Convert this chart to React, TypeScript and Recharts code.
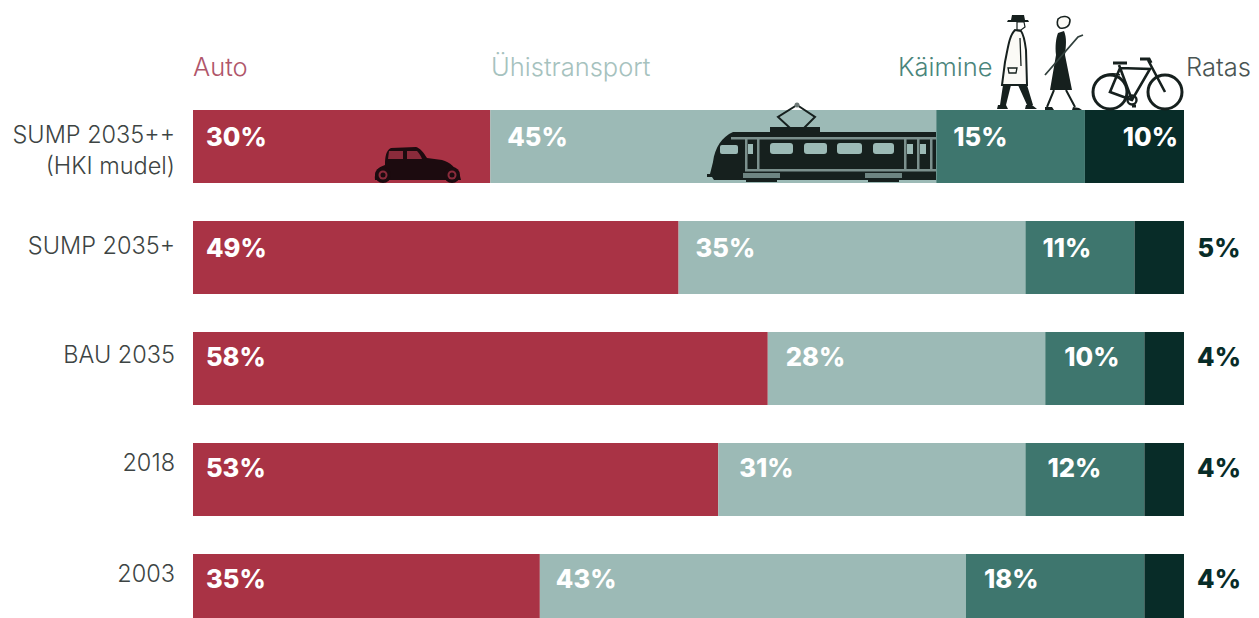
import React from "react";
import { BarChart, Bar, XAxis, YAxis, LabelList } from "recharts";

// Modal split of trips per scenario, in percent
const scenarios = ["SUMP 2035++|(HKI mudel)", "SUMP 2035+", "BAU 2035", "2018", "2003"];
const auto = [30, 49, 58, 53, 35];
const transit = [45, 35, 28, 31, 43];
const walking = [15, 11, 10, 12, 18];
const cycling = [10, 5, 4, 4, 4];

const rows = scenarios.map((name, i) => ({
  name,
  auto: auto[i],
  transit: transit[i],
  walking: walking[i],
  cycling: cycling[i],
}));

const RED = "#a93345";
const PALE = "#9cbab6";
const TEAL = "#3e766e";
const DARK = "#082c28";
const INK = "#16201e";
const CAR_INK = "#1c0b0f";
const TRAIN_LINE = "#7b908d";

const LIGHT_FONT = "Inter, sans-serif";
const BOLD_FONT = "Inter, sans-serif";
const PERCENT_SIZE = 25.5;

// Horizontal inset of the percentage inside each segment, per row
const autoInset = [13, 13, 13, 13, 13];
const transitInset = [17, 17, 18, 21, 16];
const walkingInset = [17, 17, 19, 22, 18];
// Vertical nudges per row for the scenario names and the percentages
const tickNudge = [0, 0, -2, -5, -5];
const percentNudge = [0, 0, -2, -2, -2];

const percentLabel = (insets: number[]) => (p: any) => (
  <text
    x={p.x + insets[p.index]}
    y={p.y + 36 + percentNudge[p.index]}
    fill="#fff"
    fontFamily={BOLD_FONT}
    fontWeight={800}
    fontSize={PERCENT_SIZE}
  >
    {p.value}%
  </text>
);

const Car = () => (
  <g fill={CAR_INK}>
    <path d="M375 180 C374 172 378 167 385 165 C385 157 386 150 391 148 L416 147 C420 148 424 153 427 158 L442 160 C450 162 456 168 460 176 L461 180 Z" />
    <path d="M389 151 L403 151 L403 159 L388 159 Z" fill="#8a2b3b" />
    <path d="M407 151 L417 151 C419 153 421 156 422 159 L407 159 Z" fill="#8a2b3b" />
    <circle cx="383" cy="175" r="8" />
    <circle cx="383" cy="175" r="4.5" fill="#8a2b3b" />
    <circle cx="383" cy="175" r="2.5" />
    <circle cx="452" cy="175" r="8" />
    <circle cx="452" cy="175" r="4.5" fill="#8a2b3b" />
    <circle cx="452" cy="175" r="2.5" />
  </g>
);

const Train = () => (
  <g>
    <path d="M797 105 L778 117 L790 128 M797 105 L815 117 L804 128" fill="none" stroke={INK} strokeWidth="2" />
    <circle cx="797" cy="105" r="2.5" fill="#6d7876" />
    <rect x="770" y="127" width="50" height="5" fill={INK} />
    <path d="M936 132 L733 132 C722 137 715 147 713 162 L710 174 L707 174 L707 177 L712 177 L714 180 L936 180 Z" fill={INK} />
    <rect x="731" y="137" width="205" height="2.5" fill={TRAIN_LINE} />
    <rect x="745" y="169" width="191" height="2.5" fill={TRAIN_LINE} />
    <rect x="720" y="145" width="18" height="9" rx="2" fill={PALE} />
    <rect x="748" y="144" width="5" height="10" fill={PALE} />
    {[
      [770, 23],
      [804, 23],
      [837, 25],
      [873, 21],
    ].map(([x, w]) => (
      <rect key={x} x={x} y="143" width={w} height="11" rx="3" fill={PALE} />
    ))}
    {[907, 920].map((x) => (
      <rect key={x} x={x} y="144" width="6" height="10" fill={PALE} />
    ))}
    {[745, 757, 904, 917, 930].map((x) => (
      <rect key={x} x={x} y="138" width="2.5" height="33" fill={TRAIN_LINE} />
    ))}
    {[743, 865].map((x) => (
      <g key={x}>
        <rect x={x} y="173" width="37" height="5" fill="#6e8582" />
        <rect x={x + 3} y="178" width="31" height="4" fill={INK} />
      </g>
    ))}
  </g>
);

const Walkers = () => (
  <g>
    {/* man in a long coat and a hat */}
    <path d="M1008 20 L1028 20 L1029 22 L1007 22 Z M1012 15 L1024 15 L1025 20 L1011 20 Z" fill={INK} />
    <path d="M1017 22 L1024 22 L1025 27 L1021 30 L1017 30 Z" fill="#fff" stroke={INK} strokeWidth="1.2" />
    <path d="M1015 30 C1009 36 1008 48 1005 62 L1002 85 L1027 85 L1026 50 C1025 42 1024 35 1021 31 Z" fill="#fbfaf6" stroke={INK} strokeWidth="2" />
    <path d="M1020 38 L1021 66 M1008 68 L1017 68 L1016 73 L1009 73 Z" fill="none" stroke={INK} strokeWidth="1.3" />
    <path d="M1003 85 L1000 105 L1006 105 L1011 85 Z M1018 85 L1027 105 L1033 105 L1027 85 Z" fill={INK} />
    <path d="M998 105 L1006 105 L1008 109 L997 109 Z M1026 105 L1032 105 L1037 109 L1025 109 Z" fill={INK} />
    {/* woman with a walking cane */}
    <path d="M1058 19 C1062 15 1069 16 1070 20 C1070 26 1066 29 1060 28 C1057 26 1057 22 1058 19 Z" fill="#fbfaf6" stroke={INK} strokeWidth="1.6" />
    <path d="M1058 33 L1064 31 C1067 38 1066 46 1065 55 L1072 90 L1050 90 L1056 55 C1055 46 1056 38 1058 33 Z" fill={INK} />
    <path d="M1045 75 L1078 37 L1083 35" fill="none" stroke="#31403d" strokeWidth="1.8" />
    <path d="M1054 90 L1047 107 M1066 90 L1075 107" fill="none" stroke={INK} strokeWidth="2" />
    <path d="M1045 107 L1052 107 L1054 110 L1045 110 Z M1073 107 L1079 108 L1082 110 L1072 110 Z" fill={INK} />
  </g>
);

const Bicycle = () => (
  <g fill="none" stroke={INK}>
    <circle cx="1110" cy="92" r="17" strokeWidth="3" />
    <circle cx="1165" cy="92" r="17" strokeWidth="3" />
    <circle cx="1132" cy="100" r="4.5" strokeWidth="2.4" />
    <path d="M1110 92 L1120 68 L1150 69 L1132 100 Z M1119 65 L1132 100 M1110 92 L1132 100 M1148 60 L1165 92" strokeWidth="2.6" />
    <path d="M1113 63 L1127 63 M1140 59 L1149 59 L1151 63 M1132 106 L1136 106" strokeWidth="3.2" />
    <path d="M1096 82 C1102 74 1112 72 1120 75" strokeWidth="1.4" />
  </g>
);

const Pictograms = () => (
  <g>
    <Car />
    <Train />
    <Walkers />
    <Bicycle />
  </g>
);

// Small cycling shares sit outside the bar in dark ink; the pictograms are
// attached to the top row so they paint above the bars.
const cyclingLabel = (p: any) => {
  const y = p.y + 36 + percentNudge[p.index];
  return (
    <g>
      {p.index === 0 && <Pictograms />}
      {p.value >= 10 ? (
        <text x={p.x + p.width - 6} y={y} textAnchor="end" fill="#fff" fontFamily={BOLD_FONT} fontWeight={800} fontSize={PERCENT_SIZE}>
          {p.value}%
        </text>
      ) : (
        <text x={p.x + p.width + 35} y={y} textAnchor="middle" fill={DARK} fontFamily={BOLD_FONT} fontWeight={800} fontSize={PERCENT_SIZE}>
          {p.value}%
        </text>
      )}
    </g>
  );
};

const ScenarioTick = (p: any) => {
  const lines = String(p.payload.value).split("|");
  return (
    <text textAnchor="end" fill="#3d4443" fontFamily={LIGHT_FONT} fontWeight={300} fontSize={23.5}>
      {lines.map((line, i) => (
        <tspan key={line} x={175} y={p.y - 4 + tickNudge[p.index] + i * 31}>
          {line}
        </tspan>
      ))}
    </text>
  );
};

const headings = [
  { label: "Auto", x: 193, color: "#b0566a" },
  { label: "Ühistransport", x: 491, color: "#a6c2be" },
  { label: "Käimine", x: 898, color: "#4a857b" },
  { label: "Ratas", x: 1186, color: "#4a5553" },
];

export default function App() {
  return (
    <div style={{ position: "absolute", left: 0, top: 0, width: 1259, height: 618, overflow: "hidden", background: "#fff" }}>
      <BarChart
        width={1259}
        height={660}
        data={rows}
        layout="vertical"
        barSize={73}
        margin={{ top: 91, right: 75, bottom: 14, left: 0 }}
      >
        <XAxis type="number" domain={[0, 100]} hide />
        <YAxis type="category" dataKey="name" width={193} axisLine={false} tickLine={false} tick={ScenarioTick} interval={0} />
        <Bar dataKey="auto" stackId="share" fill={RED} isAnimationActive={false}>
          <LabelList dataKey="auto" content={percentLabel(autoInset)} />
        </Bar>
        <Bar dataKey="transit" stackId="share" fill={PALE} isAnimationActive={false}>
          <LabelList dataKey="transit" content={percentLabel(transitInset)} />
        </Bar>
        <Bar dataKey="walking" stackId="share" fill={TEAL} isAnimationActive={false}>
          <LabelList dataKey="walking" content={percentLabel(walkingInset)} />
        </Bar>
        <Bar dataKey="cycling" stackId="share" fill={DARK} isAnimationActive={false}>
          <LabelList dataKey="cycling" content={cyclingLabel} />
        </Bar>
        {headings.map((h) => (
          <text key={h.label} x={h.x} y={76} fill={h.color} fontFamily={LIGHT_FONT} fontWeight={300} fontSize={25.5}>
            {h.label}
          </text>
        ))}
      </BarChart>
    </div>
  );
}
